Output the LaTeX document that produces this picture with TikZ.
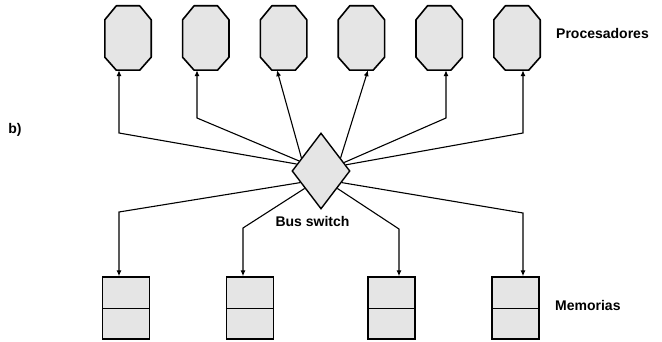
\documentclass[tikz,border=0pt]{standalone}
\usepackage{fontspec}
\setmainfont{Liberation Sans}
\usetikzlibrary{shapes.geometric,arrows.meta,calc}
\begin{document}
\begin{tikzpicture}[x=1pt,y=-1pt,
  procbox/.style={rectangle,draw=none,minimum width=46pt,minimum height=64pt,inner sep=0pt},
  octo/.style={draw=black,fill=black!10,line width=1.6pt,line join=round},
  membox/.style={rectangle,draw=black,fill=black!10,line width=1.4pt,minimum width=47pt,minimum height=62pt,inner sep=0pt},
  swbox/.style={diamond,draw=black,fill=black!10,line width=1.4pt,minimum width=58pt,minimum height=76pt,inner sep=0pt},
  conn/.style={line width=1.1pt,-{Latex[length=6pt,width=5pt]}},
  lbl/.style={font=\fontsize{14}{16}\selectfont\bfseries,inner sep=0pt}]
\useasboundingbox (0,0) rectangle (662,342);
% processors
\foreach \i/\x in {1/128,2/205.8,3/283.6,4/361.4,5/439.2,6/517}
  \node[procbox] (p\i) at (\x,38) {};
\foreach \n in {p1,p2,p3,p4,p5,p6}
  \filldraw[octo] ($(\n.north west)+(11.5,0)$) -- ($(\n.north east)+(-11.5,0)$)
    -- ($(\n.north east)+(0,14)$) -- ($(\n.south east)+(0,-13)$)
    -- ($(\n.south east)+(-11.5,0)$) -- ($(\n.south west)+(11.5,0)$)
    -- ($(\n.south west)+(0,-13)$) -- ($(\n.north west)+(0,14)$) -- cycle;
% memories
\foreach \i/\x in {1/126,2/250,3/391.5,4/515.5}
  \node[membox] (m\i) at (\x,308) {};
\foreach \n in {m1,m2,m3,m4}
  \draw[line width=1pt] (\n.west) -- (\n.east);
% switch
\node[swbox] (sw) at (321,171) {};
% bend points
\coordinate (b1) at (119,133);
\coordinate (b2) at (197,118);
\coordinate (b5) at (446,118);
\coordinate (b6) at (523,133);
\coordinate (c1) at (119,212);
\coordinate (c2) at (243,228);
\coordinate (c3) at (399,229);
\coordinate (c4) at (523,213);
% connectors to processors
\draw[conn] ($(sw.north)!0.82!(sw.west)$) -- (b1) -- (b1 |- p1.south);
\draw[conn] ($(sw.north)!0.74!(sw.west)$) -- (b2) -- (b2 |- p2.south);
\draw[conn] ($(sw.north)!0.66!(sw.west)$) -- ($(p3.south)+(-6.6,0)$);
\draw[conn] ($(sw.north)!0.66!(sw.east)$) -- ($(p4.south)+(6.6,0)$);
\draw[conn] ($(sw.north)!0.78!(sw.east)$) -- (b5) -- (b5 |- p5.south);
\draw[conn] ($(sw.north)!0.84!(sw.east)$) -- (b6) -- (b6 |- p6.south);
% connectors to memories
\draw[conn] ($(sw.west)!0.3!(sw.south)$) -- (c1) -- (c1 |- m1.north);
\draw[conn] ($(sw.west)!0.45!(sw.south)$) -- (c2) -- (c2 |- m2.north);
\draw[conn] ($(sw.east)!0.45!(sw.south)$) -- (c3) -- (c3 |- m3.north);
\draw[conn] ($(sw.east)!0.3!(sw.south)$) -- (c4) -- (c4 |- m4.north);
% labels
\node[lbl,anchor=west] (tproc) at (556,33) {Procesadores};
\node[lbl,anchor=west] (tmem) at (555,305) {Memorias};
\node[lbl] (tsw) at (312.5,221) {Bus switch};
\node[lbl] (tb) at (15,130) {b)};
\end{tikzpicture}
\end{document}
